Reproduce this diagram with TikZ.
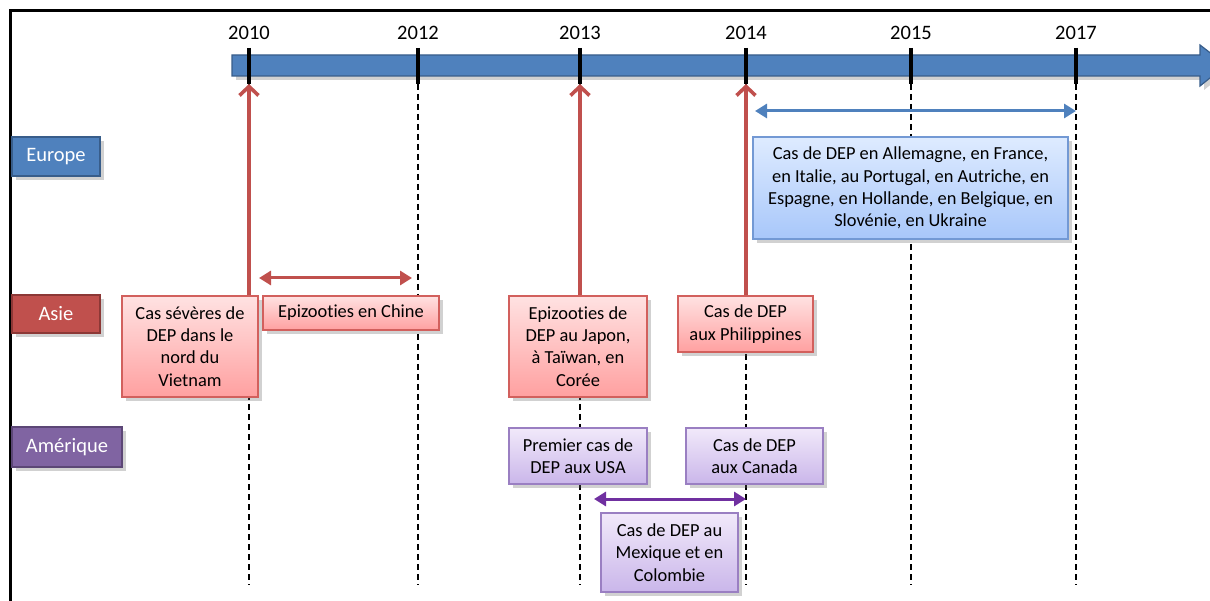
\documentclass[tikz,border=0pt]{standalone}
\usepackage{fontspec}
\setmainfont[Ligatures=NoCommon]{Carlito}
\usepackage{tikz}
\usetikzlibrary{arrows.meta,shadows}

\definecolor{bleu}{HTML}{4F81BD}
\definecolor{bleubord}{HTML}{385D8A}
\definecolor{rouge}{HTML}{C0504D}
\definecolor{rougebord}{HTML}{8C3836}
\definecolor{violet}{HTML}{8064A2}
\definecolor{violetbord}{HTML}{5C4776}
\definecolor{violetfl}{HTML}{7030A0}
\definecolor{rtop}{HTML}{FFE2E2}
\definecolor{rbot}{HTML}{FFA0A0}
\definecolor{rbord}{HTML}{D2605D}
\definecolor{btop}{HTML}{DEEBFF}
\definecolor{bbot}{HTML}{A8C7FA}
\definecolor{bbord}{HTML}{7399D4}
\definecolor{vtop}{HTML}{F1E9FA}
\definecolor{vbot}{HTML}{CAB6EA}
\definecolor{vbord}{HTML}{9A7FC2}

\begin{document}
\begin{tikzpicture}[x=1pt,y=-1pt,
  ombre/.style={drop shadow={shadow xshift=4pt,shadow yshift=-4pt,opacity=.3,fill=black!60}},
  box/.style={draw,line width=1.2pt,align=center,inner sep=0pt,ombre,
    font=\fontsize{18.4}{22.3}\selectfont},
  rbox/.style={box,draw=rbord,top color=rtop,bottom color=rbot},
  bbox/.style={box,draw=bbord,top color=btop,bottom color=bbot},
  vbox/.style={box,draw=vbord,top color=vtop,bottom color=vbot},
  lane/.style={draw,line width=1.5pt,inner sep=0pt,text=white,ombre,
    font=\fontsize{20.5}{24}\selectfont},
  year/.style={anchor=base,font=\fontsize{20.5}{24}\selectfont},
  tick/.style={line width=3.5pt},
  dashline/.style={line width=1.3pt,dash pattern=on 6pt off 4pt},
  redup/.style={rouge,line width=3.6pt,-{Straight Barb[length=9pt,width=19pt]}},
  dbl/.style={line width=3pt,{Triangle[length=12pt,width=14pt]}-{Triangle[length=12pt,width=14pt]}}
]
\useasboundingbox (0,0) rectangle (1210,601);
\clip (0,0) rectangle (1210,601);

% cadre
\draw[line width=3pt] (10,601) -- (10,11) -- (1210,11);

% dates
\coordinate (t0) at (249,84);
\coordinate (t1) at (418,84);
\coordinate (t2) at (580,84);
\coordinate (t3) at (746,84);
\coordinate (t4) at (911,84);
\coordinate (t5) at (1076,84);

\draw[dashline] (t0) -- (249,585);
\draw[dashline] (t1) -- (418,585);
\draw[dashline] (t2) -- (580,585);
\draw[dashline] (t3) -- (746,585);
\draw[dashline] (t4) -- (911,585);
\draw[dashline] (t5) -- (1076,585);

\fill[bleu,draw=bleubord,line width=1.2pt,ombre] (232,55) -- (1200,55) -- (1200,45) -- (1226,65)
  -- (1200,86) -- (1200,76) -- (232,76) -- cycle;

\draw[tick] (249,48) -- (t0);
\draw[tick] (418,48) -- (t1);
\draw[tick] (580,48) -- (t2);
\draw[tick] (746,48) -- (t3);
\draw[tick] (911,48) -- (t4);
\draw[tick] (1076,48) -- (t5);

\node[year] (y0) at (249,40) {2010};
\node[year] (y1) at (418,40) {2012};
\node[year] (y2) at (580,40) {2013};
\node[year] (y3) at (746,40) {2014};
\node[year] (y4) at (911,40) {2015};
\node[year] (y5) at (1076,40) {2017};

% continents
\node[lane,fill=bleu,draw=bleubord,minimum width=88pt,minimum height=39pt] (europe) at (56,156.5) {Europe};
\node[lane,fill=rouge,draw=rougebord,minimum width=88pt,minimum height=38pt] (asie) at (56,314) {Asie};
\node[lane,fill=violet,draw=violetbord,minimum width=110pt,minimum height=40pt] (amerique) at (67,447) {Amérique};

% Europe
\node[bbox,minimum width=315pt,minimum height=102pt] (e1) at (910.5,188)
  {Cas de DEP en Allemagne, en France,\\en Italie, au Portugal, en Autriche, en\\Espagne, en Hollande, en Belgique, en\\Slovénie, en Ukraine};

% Asie
\node[rbox,minimum width=136pt,minimum height=101pt] (a1) at (190,346.5)
  {Cas sévères de\\DEP dans le\\nord du\\Vietnam};
\node[rbox,minimum width=176pt,minimum height=34pt] (a2) at (351,313) {Epizooties en Chine};
\node[rbox,minimum width=138pt,minimum height=101pt] (a3) at (578,346.5)
  {Epizooties de\\DEP au Japon,\\à Taïwan, en\\Corée};
\node[rbox,minimum width=135pt,minimum height=56pt] (a4) at (745.5,324) {Cas de DEP\\aux Philippines};

% Amerique
\node[vbox,minimum width=138pt,minimum height=56pt] (m1) at (578,456) {Premier cas de\\DEP aux USA};
\node[vbox,minimum width=137pt,minimum height=56pt] (m2) at (754.5,456) {Cas de DEP\\aux Canada};
\node[vbox,minimum width=137pt,minimum height=79pt] (m3) at (669.5,552.5) {Cas de DEP au\\Mexique et en\\Colombie};

% fleches
\draw[redup] (a1.north -| t0) -- (t0);
\draw[redup] (a3.north -| t2) -- (t2);
\draw[redup] (a4.north -| t3) -- (t3);

\coordinate (r1) at (259,278);
\coordinate (r2) at (412,278);
\coordinate (b1) at (755,111);
\coordinate (b2) at (1076,111);
\coordinate (p1) at (594,499);
\coordinate (p2) at (746,499);

\draw[dbl,rouge] (r1) -- (r2);
\draw[dbl,bleu] (b1) -- (b2);
\draw[dbl,violetfl] (p1) -- (p2);
\end{tikzpicture}
\end{document}
